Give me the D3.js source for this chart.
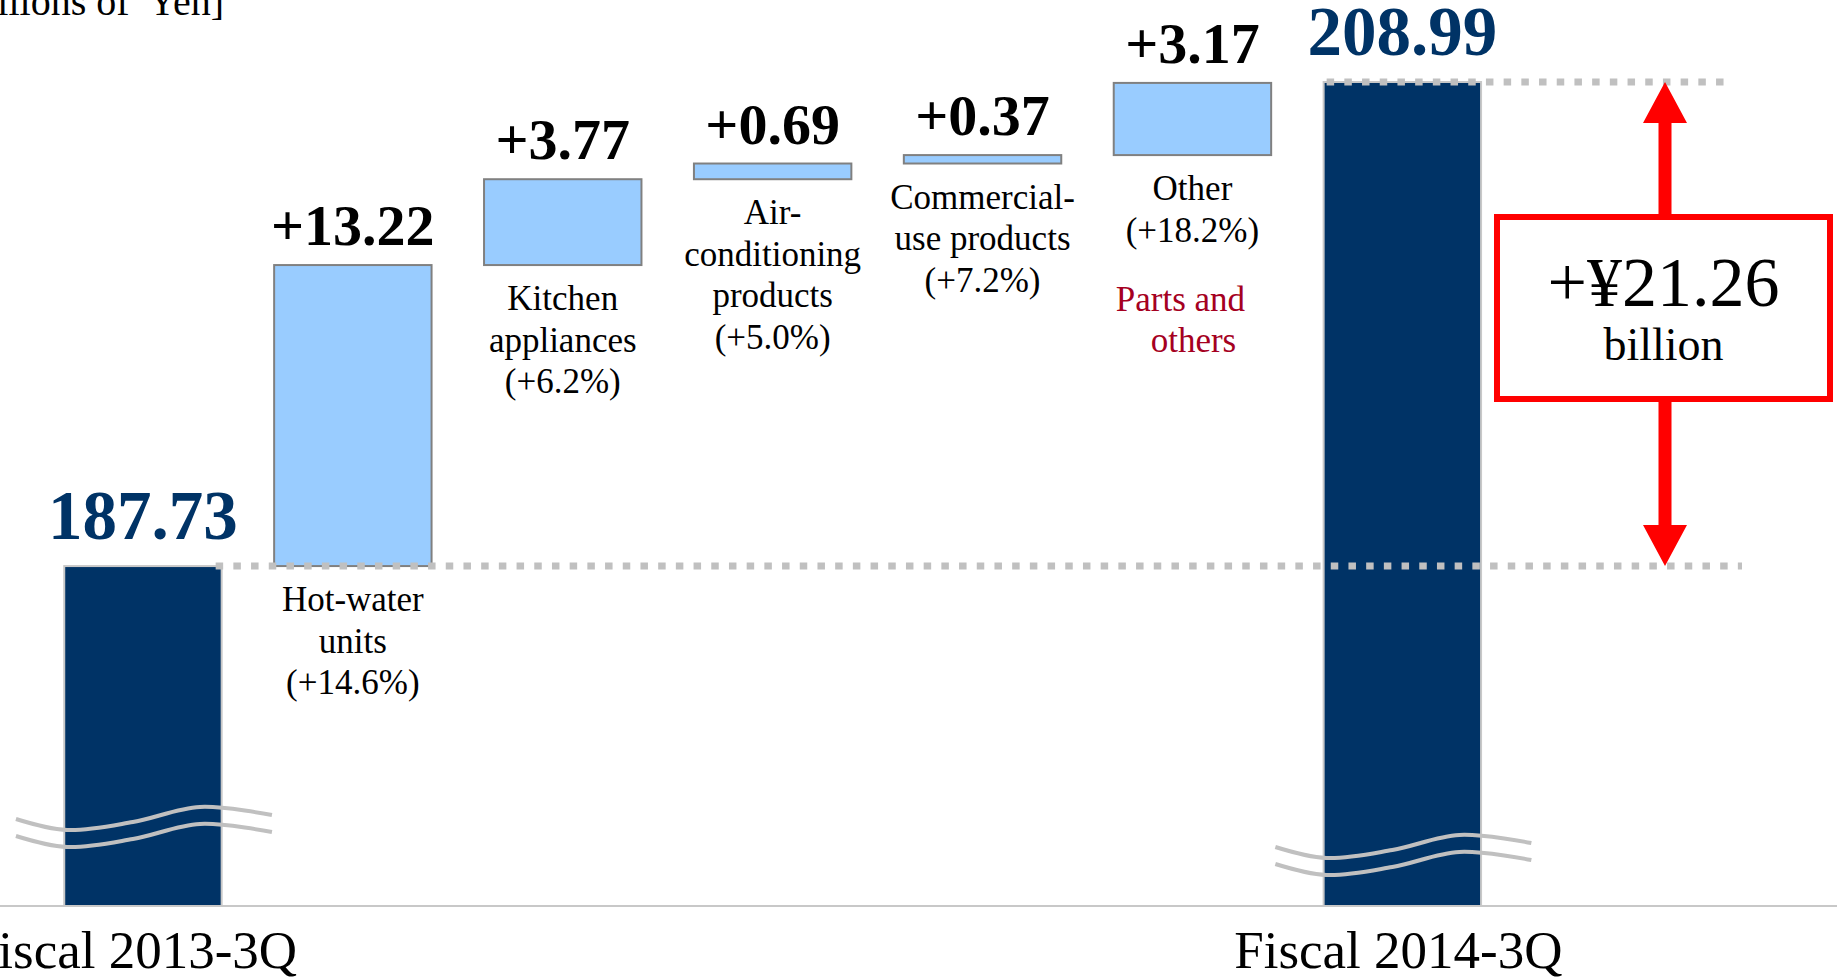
<!DOCTYPE html>
<html>
<head>
<meta charset="utf-8">
<script src="https://cdn.jsdelivr.net/npm/d3@7"></script>
<style>
  html, body { margin: 0; padding: 0; background: #ffffff; overflow: hidden; }
  svg { display: block; }
  text { font-family: "Liberation Serif", "Times New Roman", Times, serif; }
</style>
</head>
<body>
<svg id="chart" width="1837" height="979"></svg>
<script>
// Net sales bridge: fiscal 2013-3Q to fiscal 2014-3Q, in billions of yen
const periods = ["Fiscal 2013-3Q", "Fiscal 2014-3Q"];
const periodTotals = [187.73, 208.99];

const segments = ["Hot-water units", "Kitchen appliances", "Air-conditioning products", "Commercial-use products", "Other"];
const segmentLabelLines = [
  ["Hot-water", "units"],
  ["Kitchen", "appliances"],
  ["Air-", "conditioning", "products"],
  ["Commercial-", "use products"],
  ["Other"]
];
const segmentDeltas = [13.22, 3.77, 0.69, 0.37, 3.17];
const segmentGrowth = ["+14.6%", "+6.2%", "+5.0%", "+7.2%", "+18.2%"];

const otherNote = ["Parts and", "others"];
const unitLabel = "[Billions of\u00a0 Yen]";
const changeValue = 21.26;
const changeUnit = "billion";

// ---------------------------------------------------------------------------
const W = 1837, H = 979;
const NAVY = "#003366", SKY = "#99CCFF", RED = "#FF0000", DOT = "#C0C0C0";
const svg = d3.select("#chart");

// Waterfall steps: opening total, one floating step per segment, closing total
const axisFloor = 172.8;            // value at the broken baseline
const steps = [];
steps.push({ key: periods[0], kind: "total", from: axisFloor, to: periodTotals[0] });
let running = periodTotals[0];
segments.forEach((s, i) => {
  steps.push({ key: s, kind: "delta", from: running, to: running + segmentDeltas[i], idx: i });
  running += segmentDeltas[i];
});
steps.push({ key: periods[1], kind: "total", from: axisFloor, to: periodTotals[1] });

const x = d3.scaleBand()
  .domain(steps.map(d => d.key))
  .range([38, 1507.3])
  .paddingInner(0.25)
  .paddingOuter(0.125);
const bw = x.bandwidth();
const cx = k => x(k) + bw / 2;

const y = d3.scaleLinear()
  .domain([axisFloor, periodTotals[1]])
  .range([906, 82]);

// Unit caption
svg.append("text")
  .attr("x", 224).attr("y", 15)
  .attr("text-anchor", "end")
  .attr("font-size", 40)
  .attr("fill", "#000")
  .text(unitLabel);

// Baseline
svg.append("line")
  .attr("x1", 0).attr("x2", W)
  .attr("y1", y(axisFloor)).attr("y2", y(axisFloor))
  .attr("stroke", "#C8C8C8").attr("stroke-width", 2);

// Bars
svg.append("g").selectAll("rect")
  .data(steps)
  .join("rect")
  .attr("x", d => x(d.key))
  .attr("width", bw)
  .attr("y", d => y(d.to))
  .attr("height", d => y(d.from) - y(d.to))
  .attr("fill", d => d.kind === "total" ? NAVY : SKY)
  .attr("stroke", d => d.kind === "total" ? "#C8C8C8" : "#808080")
  .attr("stroke-width", 2);

// Arrow position for the overall change
const arrowX = 1665;

// Dotted reference lines at the two totals
const refLines = [
  { v: periodTotals[0], x1: x(periods[0]) + bw - 6, x2: arrowX + 77 },
  { v: periodTotals[1], x1: x(periods[1]) + 3, x2: arrowX + 64 }
];
svg.append("g").selectAll("line")
  .data(refLines)
  .join("line")
  .attr("x1", d => d.x1).attr("x2", d => d.x2)
  .attr("y1", d => y(d.v)).attr("y2", d => y(d.v))
  .attr("stroke", DOT)
  .attr("stroke-width", 7)
  .attr("stroke-dasharray", "7.5 10.2");

// Axis-break wavy marks across the total bars
const wave = [[-127, 0], [-76, 11], [-10, 3], [57, -12], [129, -4]];
const waveLine = d3.line().curve(d3.curveCatmullRom.alpha(0.5));
const breaks = [{ k: periods[0], yy: 819 }, { k: periods[1], yy: 847 }];
const gBreak = svg.append("g").attr("fill", "none").attr("stroke", "#C0C0C0").attr("stroke-width", 4);
breaks.forEach(b => {
  [0, 17].forEach(off => {
    gBreak.append("path")
      .attr("d", waveLine(wave.map(p => [cx(b.k) + p[0], b.yy + p[1] + off])));
  });
});

// Double-headed arrow spanning the change between totals
const yTop = y(periodTotals[1]), yBot = y(periodTotals[0]);
const headLen = 41, headHalf = 22, shaftHalf = 6.5;
const arrowPts = [
  [arrowX, yTop],
  [arrowX + headHalf, yTop + headLen],
  [arrowX + shaftHalf, yTop + headLen],
  [arrowX + shaftHalf, yBot - headLen],
  [arrowX + headHalf, yBot - headLen],
  [arrowX, yBot],
  [arrowX - headHalf, yBot - headLen],
  [arrowX - shaftHalf, yBot - headLen],
  [arrowX - shaftHalf, yTop + headLen],
  [arrowX - headHalf, yTop + headLen]
];
svg.append("path")
  .attr("d", d3.line()(arrowPts) + "Z")
  .attr("fill", RED);

// Change callout box
const box = { x: 1497, y: 217, w: 333, h: 182 };
svg.append("rect")
  .attr("x", box.x).attr("y", box.y).attr("width", box.w).attr("height", box.h)
  .attr("fill", "#fff").attr("stroke", RED).attr("stroke-width", 6);
svg.append("text")
  .attr("x", box.x + box.w / 2).attr("y", 306)
  .attr("text-anchor", "middle").attr("font-size", 70).attr("fill", "#000")
  .text("+¥" + d3.format(".2f")(changeValue));
svg.append("text")
  .attr("x", box.x + box.w / 2).attr("y", 360)
  .attr("text-anchor", "middle").attr("font-size", 46).attr("fill", "#000")
  .text(changeUnit);

// Value labels
const fmt = d3.format(".2f");
svg.append("g").selectAll("text")
  .data(steps)
  .join("text")
  .attr("x", d => cx(d.key))
  .attr("y", d => y(d.to) - (d.kind === "total" ? 27 : 20))
  .attr("text-anchor", "middle")
  .attr("font-weight", "bold")
  .attr("font-size", d => d.kind === "total" ? 69 : 58)
  .attr("fill", d => d.kind === "total" ? NAVY : "#000")
  .text(d => d.kind === "total" ? fmt(d.to) : "+" + fmt(d.to - d.from));

// Segment labels below each floating step
const lineH = 41.5;
const deltaSteps = steps.filter(d => d.kind === "delta");
const segText = svg.append("g").selectAll("text")
  .data(deltaSteps)
  .join("text")
  .attr("text-anchor", "middle")
  .attr("font-size", 35)
  .attr("fill", "#000")
  .attr("y", d => y(d.from) + 45);
segText.each(function (d) {
  const lines = segmentLabelLines[d.idx].concat(["(" + segmentGrowth[d.idx] + ")"]);
  d3.select(this).selectAll("tspan")
    .data(lines)
    .join("tspan")
    .attr("x", cx(d.key))
    .attr("dy", (l, i) => i === 0 ? 0 : lineH)
    .text(l => l);
});

// Note under the "Other" segment
const otherStep = deltaSteps[deltaSteps.length - 1];
const otherLast = y(otherStep.from) + 45 + lineH * segmentLabelLines[otherStep.idx].length;
svg.append("g").selectAll("text")
  .data(otherNote)
  .join("text")
  .attr("x", (d, i) => cx(otherStep.key) + (i === 0 ? -12 : 1))
  .attr("y", (d, i) => otherLast + 69 + i * lineH)
  .attr("text-anchor", "middle")
  .attr("font-size", 35)
  .attr("fill", "#A50021")
  .text(d => d);

// Period axis labels
const tickNudge = { [periods[0]]: -10, [periods[1]]: -4 };
const axis = d3.axisBottom(x).tickValues(periods).tickSize(0).tickPadding(0);
const gAxis = svg.append("g")
  .attr("transform", `translate(0,${y(axisFloor)})`)
  .call(axis);
gAxis.select(".domain").remove();
gAxis.selectAll("text")
  .attr("x", d => tickNudge[d])
  .attr("y", 62).attr("dy", 0)
  .attr("font-size", 53)
  .attr("font-family", "\"Liberation Serif\", \"Times New Roman\", Times, serif")
  .attr("fill", "#000");
</script>
</body>
</html>
